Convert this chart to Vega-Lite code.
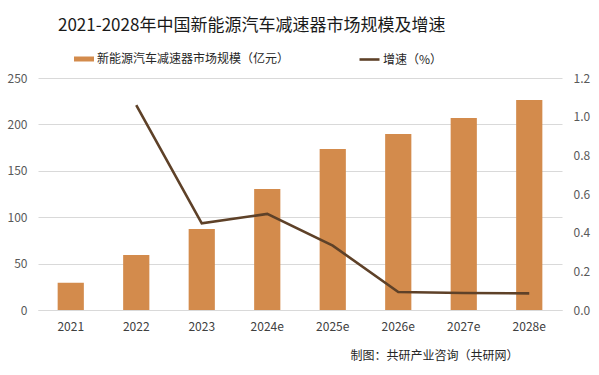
{
  "$schema": "https://vega.github.io/schema/vega-lite/v6.json",
  "width": 524,
  "height": 232,
  "autosize": {"type": "none"},
  "padding": {"left": 38, "top": 78, "right": 37, "bottom": 65},
  "background": "white",
  "config": {
    "font": "Noto Sans CJK SC",
    "view": {"stroke": null}
  },
  "title": {
    "text": "2021-2028年中国新能源汽车减速器市场规模及增速",
    "anchor": "start",
    "frame": "group",
    "dx": 20,
    "offset": 13,
    "fontSize": 17,
    "fontWeight": "normal",
    "color": "#1a1a1a",
    "font": "Noto Sans CJK SC"
  },
  "data": {
    "values": [
      {"year": "2021", "size": 29.4, "growth": null},
      {"year": "2022", "size": 59.3, "growth": 1.06},
      {"year": "2023", "size": 87.3, "growth": 0.448},
      {"year": "2024e", "size": 130.4, "growth": 0.497},
      {"year": "2025e", "size": 173.5, "growth": 0.333},
      {"year": "2026e", "size": 189.7, "growth": 0.093},
      {"year": "2027e", "size": 206.9, "growth": 0.088},
      {"year": "2028e", "size": 226.3, "growth": 0.086}
    ]
  },
  "encoding": {
    "x": {
      "field": "year",
      "type": "ordinal",
      "sort": null,
      "scale": {"paddingInner": 0.6, "paddingOuter": 0.3},
      "axis": {
        "labelAngle": 0,
        "labelFontSize": 12,
        "labelColor": "#404040",
        "labelPadding": 11,
        "ticks": false,
        "domainColor": "#D9D9D9",
        "title": "制图：共研产业咨询（共研网）",
        "titleFontSize": 12,
        "titleFontWeight": "normal",
        "titleColor": "#262626",
        "titleAnchor": "end",
        "titleAlign": "right",
        "titleX": 480,
        "titleY": 45,
        "titleBaseline": "middle"
      }
    }
  },
  "layer": [
    {
      "mark": {"type": "bar"},
      "encoding": {
        "y": {
          "field": "size",
          "type": "quantitative",
          "scale": {"domain": [0, 250]},
          "axis": {
            "values": [0, 50, 100, 150, 200, 250],
            "title": null,
            "grid": true,
            "gridColor": "#D9D9D9",
            "domain": false,
            "ticks": false,
            "labelFontSize": 12,
            "labelColor": "#595959",
            "labelPadding": 11
          }
        },
        "fill": {
          "datum": "新能源汽车减速器市场规模（亿元）",
          "scale": {"range": ["#D38B4C"]},
          "legend": {
            "title": null,
            "orient": "none",
            "legendX": 35,
            "legendY": -30,
            "symbolType": "M-1,-0.25H1V0.25H-1Z",
            "symbolSize": 400,
            "labelFontSize": 12,
            "labelLimit": 400,
            "labelColor": "#262626",
            "labelOffset": 2
          }
        }
      }
    },
    {
      "mark": {"type": "line", "strokeWidth": 2.6},
      "transform": [{"filter": "datum.growth != null"}],
      "encoding": {
        "y": {
          "field": "growth",
          "type": "quantitative",
          "scale": {"domain": [0, 1.2]},
          "axis": {
            "orient": "right",
            "values": [0, 0.2, 0.4, 0.6, 0.8, 1, 1.2],
            "title": null,
            "grid": false,
            "domain": false,
            "ticks": false,
            "labelFontSize": 12,
            "labelColor": "#595959",
            "labelPadding": 11
          }
        },
        "stroke": {
          "datum": "增速（%）",
          "scale": {"range": ["#5E4128"]},
          "legend": {
            "title": null,
            "orient": "none",
            "legendX": 320,
            "legendY": -30,
            "symbolType": "stroke",
            "symbolSize": 400,
            "symbolStrokeWidth": 2.6,
            "labelFontSize": 12,
            "labelLimit": 400,
            "labelColor": "#262626",
            "labelOffset": 2
          }
        }
      }
    }
  ],
  "resolve": {"scale": {"y": "independent"}}
}
